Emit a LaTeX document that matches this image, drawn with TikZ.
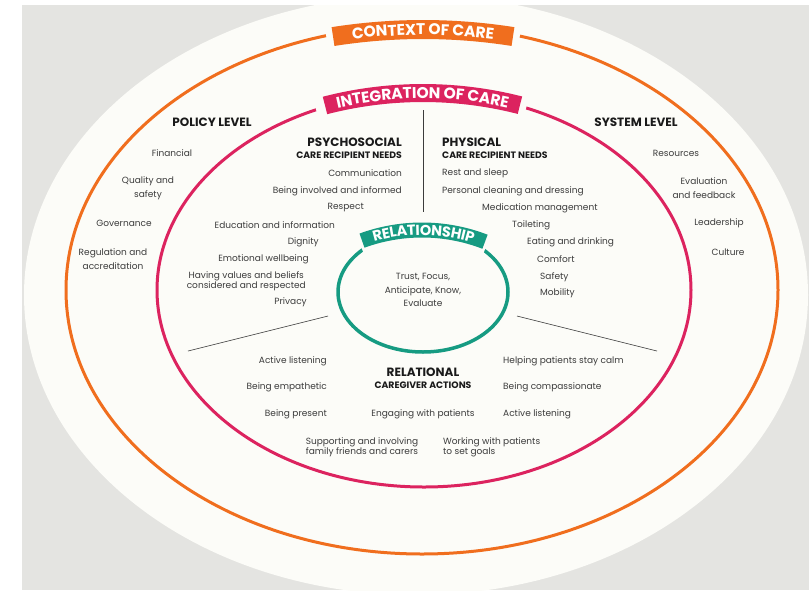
\documentclass[tikz,border=0pt]{standalone}
\usepackage{fontspec}
\setmainfont{Poppins}
\usepackage{xcolor}
\usepackage{tikz}
\usetikzlibrary{
  positioning,
  decorations.text
}

\definecolor{context-orange}{HTML}{F06E1E}
\definecolor{integration-pink}{HTML}{DC235F}
\definecolor{relationship-green}{HTML}{169B82}
\definecolor{backdrop-grey}{HTML}{E4E4E1}
\definecolor{paper}{HTML}{FCFCF8}
\definecolor{body-text}{HTML}{3C3C3C}
\definecolor{head-text}{HTML}{1A1A1A}

\begin{document}
\begin{tikzpicture}[
  x=1pt, y=-1pt,
  item/.style={font=\fontsize{9}{10}\selectfont, text=body-text, inner sep=0pt, align=center},
  loose/.style={item, font=\fontsize{9}{14}\selectfont},
  level/.style={font=\fontsize{12}{13}\selectfont\bfseries, text=head-text, inner sep=0pt},
  needs/.style={font=\fontsize{9.3}{10}\selectfont\bfseries, text=head-text, inner sep=0pt},
  ring/.style={line width=3pt},
  divider/.style={draw=body-text, line width=0.6pt},
  cut-out/.style={draw=paper, line width=#1},
  band/.style={draw=#1, line width=19pt},
  band-text/.style n args={2}{decorate, decoration={text along path, text align=center, raise=-0.35*#1pt,
      text={|\fontsize{#1}{#1}\selectfont\bfseries\color{white}|#2}}}
]

% backdrop
\useasboundingbox (0,0) rectangle (809,590);
\fill[white] (0,0) rectangle (809,590);
\fill[backdrop-grey] (22,5) rectangle (809,590);
\begin{scope}
  \clip (22,5) rectangle (809,590);
  \fill[paper] (416,295) ellipse [x radius=392, y radius=300];
\end{scope}

% rings
\draw[ring, context-orange] (422,290) ellipse [x radius=356, y radius=264];
\draw[ring, integration-pink] (424,290) ellipse [x radius=267, y radius=197];
\draw[ring, relationship-green, line width=3.5pt] (423,292) ellipse [x radius=85, y radius=60];

% banners
\coordinate (context-centre) at (423,608.5);
\coordinate (integration-centre) at (423,485);
\coordinate (relationship-centre) at (422,405);

\draw[cut-out=34pt] ([shift={(-99.6:579)}]context-centre) arc[start angle=-99.6, end angle=-80.4, radius=579];
\draw[band=context-orange] ([shift={(-98.94:579)}]context-centre) arc[start angle=-98.94, end angle=-81.06, radius=579];
\path[band-text={15.5}{CONTEXT OF CARE}] ([shift={(-98.94:579)}]context-centre) arc[start angle=-98.94, end angle=-81.06, radius=579];

\draw[cut-out=34pt] ([shift={(-105.9:392)}]integration-centre) arc[start angle=-105.9, end angle=-74.7, radius=392];
\draw[band=integration-pink, line width=18pt] ([shift={(-104.48:392)}]integration-centre) arc[start angle=-104.48, end angle=-75.68, radius=392];
\path[band-text={15.5}{INTEGRATION OF CARE}] ([shift={(-104.48:392)}]integration-centre) arc[start angle=-104.48, end angle=-75.68, radius=392];

\draw[cut-out=26pt] ([shift={(-111:175)}]relationship-centre) arc[start angle=-111, end angle=-68, radius=175];
\draw[band=relationship-green, line width=15pt] ([shift={(-110.05:175)}]relationship-centre) arc[start angle=-110.05, end angle=-68.9, radius=175];
\path[band-text={14.5}{RELATIONSHIP}] ([shift={(-110.05:175)}]relationship-centre) arc[start angle=-110.05, end angle=-68.9, radius=175];

% dividers
\coordinate (split-top) at (423,110);
\coordinate (split-bottom) at (423,212);
\coordinate (left-split-out) at (188,351);
\coordinate (left-split-in) at (328,316);
\coordinate (right-split-in) at (517,316);
\coordinate (right-split-out) at (657,351);
\draw[divider] (split-top) -- (split-bottom);
\draw[divider] (left-split-out) -- (left-split-in);
\draw[divider] (right-split-in) -- (right-split-out);

% headings
\node[level] (policy-level) at (212,122) {POLICY LEVEL};
\node[level] (system-level) at (636,122) {SYSTEM LEVEL};
\node[level, anchor=east] (psychosocial) at (402,142) {PSYCHOSOCIAL};
\node[needs, below=5pt of psychosocial.south east, anchor=north east] (psychosocial-needs) {CARE RECIPIENT NEEDS};
\node[level, anchor=west] (physical) at (442,142) {PHYSICAL};
\node[needs, below=5pt of physical.south west, anchor=north west] (physical-needs) {CARE RECIPIENT NEEDS};
\node[level] (relational) at (423,372) {RELATIONAL};
\node[needs, below=5pt of relational] (caregiver-actions) {CAREGIVER ACTIONS};

\node[item, font=\fontsize{9}{13.5}\selectfont] (relationship-core) at (423,290) {Trust, Focus,\\Anticipate, Know,\\Evaluate};

% policy and system level
\foreach \aspect/\x/\y [count=\i] in {
  Financial/172/153,
  {Quality and\\safety}/148/188,
  Governance/124/223,
  {Regulation and\\accreditation}/113/259
} \node[loose] (policy-\i) at (\x,\y) {\aspect};

\foreach \aspect/\x/\y [count=\i] in {
  Resources/676/153,
  {Evaluation\\and feedback}/704/188,
  Leadership/719/223,
  Culture/728/252
} \node[loose] (system-\i) at (\x,\y) {\aspect};

% care recipient needs
\foreach \need/\x/\y [count=\i] in {
  Communication/402/173,
  Being involved and informed/402/191,
  Respect/364/208,
  Education and information/335/225,
  Dignity/319/242,
  Emotional wellbeing/309/259,
  {Having values and beliefs\\considered and respected}/306/281,
  Privacy/307/302
} \node[item, anchor=east] (psychosocial-\i) at (\x,\y) {\need};

\foreach \need/\x/\y [count=\i] in {
  Rest and sleep/442/173,
  Personal cleaning and dressing/442/191,
  Medication management/482/208,
  Toileting/512/225,
  Eating and drinking/527/242,
  Comfort/537/259,
  Safety/540/277,
  Mobility/540/293
} \node[item, anchor=west] (physical-\i) at (\x,\y) {\need};

% caregiver actions
\foreach \action/\y [count=\i] in {
  Active listening/361,
  Being empathetic/387,
  Being present/414
} \node[item, anchor=east] (action-left-\i) at (327,\y) {\action};

\foreach \action/\y [count=\i] in {
  Helping patients stay calm/361,
  Being compassionate/387,
  Active listening/414
} \node[item, anchor=west] (action-right-\i) at (503,\y) {\action};

\node[item] (engaging) at (423,414) {Engaging with patients};
\node[item] (supporting) at (362,447) {Supporting and involving\\family friends and carers};
\node[item, align=left, anchor=west] (working) at (443,447) {Working with patients\\to set goals};

\end{tikzpicture}
\end{document}
